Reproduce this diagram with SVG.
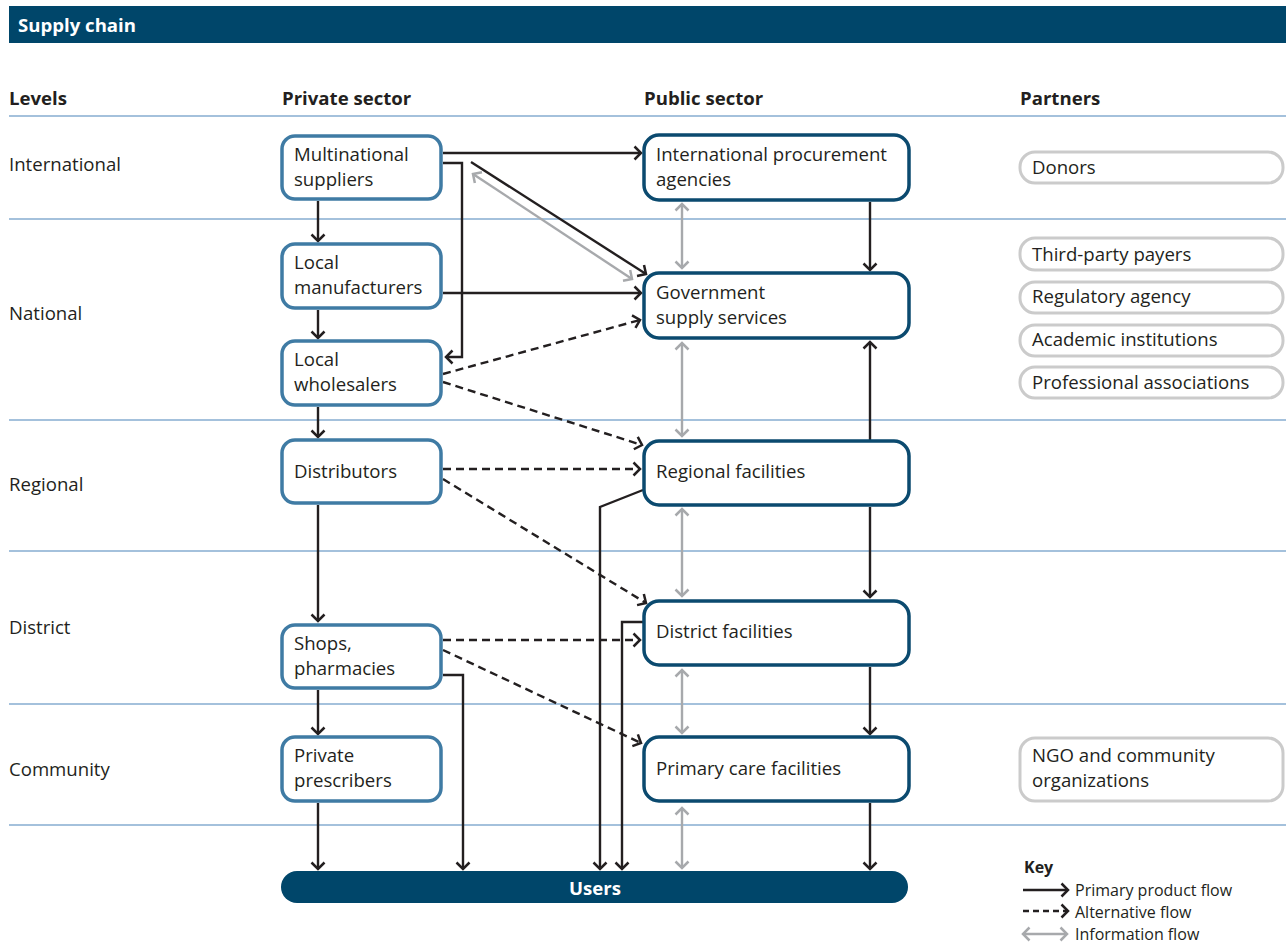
<svg xmlns="http://www.w3.org/2000/svg" width="1286" height="946" viewBox="0 0 1286 946">
<style>
text{font-family:"Open Sans","Noto Sans","Liberation Sans",sans-serif;fill:#231f20;font-size:18.6px}
.h{font-weight:bold}
.w{fill:#ffffff;font-weight:bold}
.grid{stroke:#86acd0;stroke-width:1.3}
.priv{fill:#fff;stroke:#3f7ba4;stroke-width:3.5}
.pub{fill:#fff;stroke:#0b4a6f;stroke-width:3.5}
.part{fill:#fff;stroke:#cbcbcb;stroke-width:3}
.p{fill:none;stroke:#231f20;stroke-width:2.4;marker-end:url(#ab)}
.d{fill:none;stroke:#231f20;stroke-width:2.4;stroke-dasharray:8 5;marker-end:url(#ab)}
.i{fill:none;stroke:#a7a9ac;stroke-width:2.4;marker-start:url(#ag);marker-end:url(#ag)}
.k{font-size:16px}
</style>
<defs>
<marker id="ab" viewBox="-10 -8 12 16" markerWidth="12" markerHeight="16" refX="0" refY="0" orient="auto" markerUnits="userSpaceOnUse">
<path d="M-6.5,-6.5 L0,0 L-6.5,6.5" fill="none" stroke="#231f20" stroke-width="2.5"/>
</marker>
<marker id="ag" viewBox="-10 -8 12 16" markerWidth="12" markerHeight="16" refX="0" refY="0" orient="auto-start-reverse" markerUnits="userSpaceOnUse">
<path d="M-6.5,-6.5 L0,0 L-6.5,6.5" fill="none" stroke="#a7a9ac" stroke-width="2.5"/>
</marker>
</defs>
<rect width="1286" height="946" fill="#ffffff"/>
<g id="header">
<rect x="9" y="6" width="1277" height="37" fill="#00466a"/>
<text x="18" y="32" class="w">Supply chain</text>
</g>
<g id="grid">
<line class="grid" x1="9" y1="116" x2="1286" y2="116"/>
<line class="grid" x1="9" y1="219" x2="1286" y2="219"/>
<line class="grid" x1="9" y1="420" x2="1286" y2="420"/>
<line class="grid" x1="9" y1="551" x2="1286" y2="551"/>
<line class="grid" x1="9" y1="704" x2="1286" y2="704"/>
<line class="grid" x1="9" y1="825" x2="1286" y2="825"/>
</g>
<g id="headings">
<text x="9" y="105" class="h">Levels</text>
<text x="282" y="105" class="h">Private sector</text>
<text x="644" y="105" class="h">Public sector</text>
<text x="1020" y="105" class="h">Partners</text>
</g>
<g id="levels">
<text x="9" y="171">International</text>
<text x="9" y="320">National</text>
<text x="9" y="491">Regional</text>
<text x="9" y="634">District</text>
<text x="9" y="776">Community</text>
</g>
<g id="connectors">
<path class="p" d="M443,153 H641"/>
<path class="p" d="M443,163 H462 V357 H446"/>
<path class="p" d="M471,162 L646,274"/>
<path class="i" d="M473,174 L632,279"/>
<path class="p" d="M318,201 V241"/>
<path class="p" d="M443,293 H641"/>
<path class="p" d="M318,310 V338"/>
<path class="d" d="M443,374 L640,320"/>
<path class="d" d="M443,382 L642,445"/>
<path class="p" d="M318,407 V437"/>
<path class="d" d="M443,469 H640"/>
<path class="d" d="M443,479 L646,603"/>
<path class="p" d="M318,505 V621"/>
<path class="d" d="M443,640 H640"/>
<path class="d" d="M443,650 L641,743"/>
<path class="p" d="M443,675 H463 V869"/>
<path class="p" d="M318,690 V734"/>
<path class="p" d="M318,803 V869"/>
<path class="p" d="M643,490 L600,507 V869"/>
<path class="p" d="M643,622 H622 V869"/>
<path class="p" d="M870,202 V270"/>
<path class="p" d="M870,440 V342"/>
<path class="p" d="M870,507 V597"/>
<path class="p" d="M870,667 V734"/>
<path class="p" d="M870,803 V869"/>
<path class="i" d="M682,204 V268"/>
<path class="i" d="M682,343 V436"/>
<path class="i" d="M682,509 V596"/>
<path class="i" d="M682,670 V733"/>
<path class="i" d="M682,808 V868"/>
</g>
<g id="multinational">
<rect class="priv" x="282" y="136" width="159" height="63" rx="13"/>
<text x="294" y="161">Multinational</text>
<text x="294" y="186">suppliers</text>
</g>
<g id="manufacturers">
<rect class="priv" x="282" y="244" width="159" height="64" rx="13"/>
<text x="294" y="269">Local</text>
<text x="294" y="294">manufacturers</text>
</g>
<g id="wholesalers">
<rect class="priv" x="282" y="341" width="159" height="64" rx="13"/>
<text x="294" y="366">Local</text>
<text x="294" y="391">wholesalers</text>
</g>
<g id="distributors">
<rect class="priv" x="282" y="440" width="159" height="63" rx="13"/>
<text x="294" y="478">Distributors</text>
</g>
<g id="shops">
<rect class="priv" x="282" y="625" width="159" height="63" rx="13"/>
<text x="294" y="650">Shops,</text>
<text x="294" y="675">pharmacies</text>
</g>
<g id="prescribers">
<rect class="priv" x="282" y="737" width="159" height="64" rx="13"/>
<text x="294" y="762">Private</text>
<text x="294" y="787">prescribers</text>
</g>
<g id="procurement">
<rect class="pub" x="644" y="135" width="265" height="65" rx="15"/>
<text x="656" y="161">International procurement</text>
<text x="656" y="186">agencies</text>
</g>
<g id="government">
<rect class="pub" x="644" y="273" width="265" height="65" rx="15"/>
<text x="656" y="299">Government</text>
<text x="656" y="324">supply services</text>
</g>
<g id="regional">
<rect class="pub" x="644" y="441" width="265" height="64" rx="15"/>
<text x="656" y="478">Regional facilities</text>
</g>
<g id="district">
<rect class="pub" x="644" y="601" width="265" height="64" rx="15"/>
<text x="656" y="638">District facilities</text>
</g>
<g id="primary">
<rect class="pub" x="644" y="737" width="265" height="64" rx="15"/>
<text x="656" y="775">Primary care facilities</text>
</g>
<g id="donors">
<rect class="part" x="1020" y="152" width="263" height="31" rx="15"/>
<text x="1032" y="174">Donors</text>
</g>
<g id="payers">
<rect class="part" x="1020" y="238" width="263" height="32" rx="15"/>
<text x="1032" y="261">Third-party payers</text>
</g>
<g id="regulatory">
<rect class="part" x="1020" y="282" width="263" height="31" rx="15"/>
<text x="1032" y="303">Regulatory agency</text>
</g>
<g id="academic">
<rect class="part" x="1020" y="325" width="263" height="31" rx="15"/>
<text x="1032" y="346">Academic institutions</text>
</g>
<g id="professional">
<rect class="part" x="1020" y="367" width="263" height="31" rx="15"/>
<text x="1032" y="389">Professional associations</text>
</g>
<g id="ngo">
<rect class="part" x="1020" y="738" width="263" height="63" rx="15"/>
<text x="1032" y="762">NGO and community</text>
<text x="1032" y="787">organizations</text>
</g>
<g id="users">
<rect x="281" y="871" width="627" height="32" rx="16" fill="#00466a"/>
<text x="595" y="895" class="w" text-anchor="middle">Users</text>
</g>
<g id="key">
<text x="1024" y="873" class="h k">Key</text>
<path class="p" d="M1023,890 H1068"/>
<path class="d" d="M1023,911 H1068" style="stroke-dasharray:6 4"/>
<path class="i" d="M1023,934 H1067"/>
<text x="1075" y="896" class="k">Primary product flow</text>
<text x="1075" y="918" class="k">Alternative flow</text>
<text x="1075" y="940" class="k">Information flow</text>
</g>
</svg>
